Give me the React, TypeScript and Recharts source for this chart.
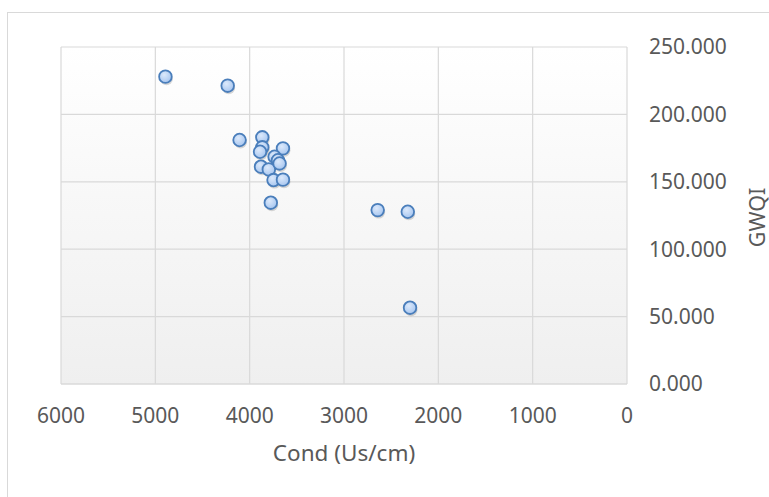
import { CartesianGrid, Scatter, ScatterChart, XAxis, YAxis } from "recharts";

// Conductivity (Us/cm) vs GWQI.
const cond = [4893, 4233, 4107, 3866, 3866, 3890, 3647, 3736, 3700, 3880, 3797, 3683, 3747, 3647, 3776, 2643, 2324, 2300];
const gwqi = [228, 221.3, 181, 183, 175.6, 172.3, 174.8, 168.6, 166, 161.2, 159.2, 163.6, 151.3, 151.6, 134.5, 129, 127.8, 56.6];

const xTicks = [0, 1000, 2000, 3000, 4000, 5000, 6000];
const yTicks = [0, 50, 100, 150, 200, 250];

const points = cond.map((c, i) => ({ cond: c, gwqi: gwqi[i] }));

const FONT = "'Noto Sans', sans-serif";
const TEXT = "#595959";

const Dot = (props: any) => {
  const { cx, cy } = props;
  if (cx == null || cy == null) return null;
  return (
    <g>
      <circle cx={cx + 1} cy={cy + 2} r={6.5} fill="rgba(0,0,0,0.15)" />
      <circle cx={cx} cy={cy} r={6.3} fill="url(#dotFill)" stroke="#4a7ebb" strokeWidth={1.8} />
    </g>
  );
};

// rotated y-axis title, centred on the axis box
const YTitle = (props: any) => {
  const vb = props.viewBox || {};
  const x = vb.x + 129;
  const y = vb.y + vb.height / 2 + 2;
  return (
    <text
      x={x}
      y={y}
      transform={`rotate(-90, ${x}, ${y})`}
      textAnchor="middle"
      dominantBaseline="central"
      fill={TEXT}
      fontSize={21.5}
      fontFamily={FONT}
    >
      GWQI
    </text>
  );
};

export default function App() {
  return (
    <div
      style={{
        position: "absolute",
        left: 0,
        top: 0,
        width: 769,
        height: 497,
        background: "#fff",
        overflow: "hidden",
      }}
    >
      <div
        style={{
          position: "absolute",
          left: 7,
          top: 12,
          width: 800,
          height: 520,
          border: "1px solid #d9d9d9",
        }}
      />
      <div style={{ position: "absolute", left: 0, top: 0 }}>
        <ScatterChart width={769} height={497} margin={{ top: 47, left: 61, bottom: 13, right: 0 }}>
          <defs>
            <linearGradient id="plotBg" x1="0" y1="0" x2="0" y2="1">
              <stop offset="0%" stopColor="#ffffff" />
              <stop offset="100%" stopColor="#efefef" />
            </linearGradient>
            <radialGradient id="dotFill" cx="40%" cy="35%" r="70%">
              <stop offset="0%" stopColor="#dce9fb" />
              <stop offset="100%" stopColor="#a4c4ef" />
            </radialGradient>
          </defs>
          <CartesianGrid stroke="#d9d9d9" strokeWidth={1.2} fill="url(#plotBg)" />
          <XAxis
            type="number"
            dataKey="cond"
            domain={[0, 6000]}
            ticks={xTicks}
            reversed
            height={100}
            tickLine={false}
            axisLine={{ stroke: "#d9d9d9", strokeWidth: 1.2 }}
            tickSize={0}
            tickMargin={24}
            tick={{ fill: TEXT, fontSize: 21, fontFamily: FONT }}
            label={{
              value: "Cond (Us/cm)",
              position: "insideBottom",
              offset: 23,
              fill: TEXT,
              fontSize: 22.5,
              fontFamily: FONT,
            }}
          />
          <YAxis
            type="number"
            dataKey="gwqi"
            orientation="right"
            domain={[0, 250]}
            ticks={yTicks}
            width={142}
            tickLine={false}
            axisLine={false}
            tickSize={0}
            tickMargin={22}
            tickFormatter={(v: number) => v.toFixed(3)}
            tick={{ fill: TEXT, fontSize: 21, fontFamily: FONT, textAnchor: "start" }}
            label={<YTitle />}
          />
          <Scatter data={points} shape={<Dot />} isAnimationActive={false} />
        </ScatterChart>
      </div>
    </div>
  );
}
